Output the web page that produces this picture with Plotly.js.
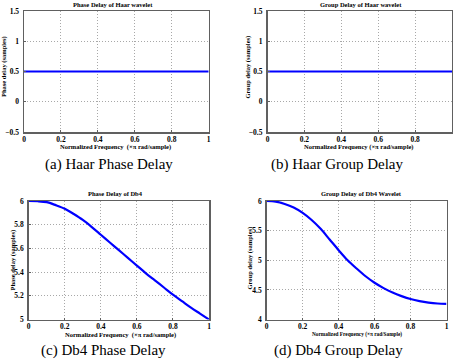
<!DOCTYPE html>
<html>
<head>
<meta charset="utf-8">
<script src="https://cdn.plot.ly/plotly-3.0.1.min.js"></script>
<style>
  html, body { margin: 0; padding: 0; background: #fff; }
  #chart { width: 453px; height: 359px; }
</style>
</head>
<body>
<div id="chart"></div>
<script>
// normalized frequency (x pi rad/sample)
let freq = [0, 0.05, 0.1, 0.15, 0.2, 0.25, 0.3, 0.35, 0.4, 0.45, 0.5,
	0.55, 0.6, 0.65, 0.7, 0.75, 0.8, 0.85, 0.9, 0.95, 1]

let haarPhaseDelay = [0.5, 0.5, 0.5, 0.5, 0.5, 0.5, 0.5, 0.5, 0.5, 0.5, 0.5,
	0.5, 0.5, 0.5, 0.5, 0.5, 0.5, 0.5, 0.5, 0.5, 0.5]
let haarGroupDelay = [0.5, 0.5, 0.5, 0.5, 0.5, 0.5, 0.5, 0.5, 0.5, 0.5, 0.5,
	0.5, 0.5, 0.5, 0.5, 0.5, 0.5, 0.5, 0.5, 0.5, 0.5]
let db4PhaseDelay = [6.00, 5.998, 5.99, 5.965, 5.935, 5.89, 5.84, 5.78, 5.715, 5.65, 5.585,
	5.52, 5.455, 5.39, 5.33, 5.27, 5.21, 5.155, 5.10, 5.05, 5.00]
let db4GroupDelay = [6.00, 5.99, 5.95, 5.89, 5.80, 5.68, 5.53, 5.35, 5.17, 5.00, 4.86,
	4.73, 4.62, 4.53, 4.455, 4.395, 4.345, 4.31, 4.285, 4.27, 4.265]

let xTicks = [0, 0.2, 0.4, 0.6, 0.8, 1]
let haarYTicks = [-0.5, 0, 0.5, 1, 1.5]
let db4PhaseYTicks = [5, 5.2, 5.4, 5.6, 5.8, 6]
let db4GroupYTicks = [4, 4.5, 5, 5.5, 6]

let W = 453, H = 359
function px(x) {return x / W}
function py(y) {return 1 - y / H}

let serif = "Liberation Serif, Times New Roman, serif"
let tickFont = {family: serif, size: 7.5, color: "#000", weight: "bold"}

function xAxis(domain, anchor) {
	return {
		domain: domain, anchor: anchor, range: [0, 1],
		tickvals: xTicks, tickfont: tickFont,
		showgrid: true, gridcolor: "#a8a8a8", griddash: "1px,2px", gridwidth: 1,
		zeroline: false, showline: true, mirror: true, linecolor: "#606060", linewidth: 1.5,
		ticks: "inside", ticklen: 2, tickcolor: "#606060", ticklabelstandoff: -1
	}
}
function yAxis(domain, anchor, range, ticks) {
	return {
		domain: domain, anchor: anchor, range: range,
		tickvals: ticks, tickfont: tickFont,
		showgrid: true, gridcolor: "#a8a8a8", griddash: "1px,2px", gridwidth: 1,
		zeroline: false, showline: true, mirror: true, linecolor: "#606060", linewidth: 1.5,
		ticks: "inside", ticklen: 2, tickcolor: "#606060", ticklabelstandoff: 2
	}
}

function line(y, xa, ya) {
	return {
		x: freq, y: y, xaxis: xa, yaxis: ya, type: "scatter", mode: "lines",
		line: {color: "#0000ff", width: 2.2, shape: "spline", smoothing: 0.9},
		cliponaxis: false, showlegend: false
	}
}

let data = [
	line(haarPhaseDelay, "x", "y"),
	line(haarGroupDelay, "x2", "y2"),
	line(db4PhaseDelay, "x3", "y3"),
	line(db4GroupDelay, "x4", "y4")
]

function label(text, x, y, size, angle, family) {
	return {
		text: text, x: px(x), y: py(y), xref: "paper", yref: "paper",
		xanchor: "center", yanchor: "middle", showarrow: false, textangle: angle || 0,
		font: {family: family || serif, size: size, color: "#000"}
	}
}

let annotations = [
	label("<b>Phase Delay of Haar wavelet</b>", 112.5, 4, 6.5),
	label("<b>Group Delay of Haar wavelet</b>", 360.5, 4, 6.5),
	label("<b>Phase Delay of Db4</b>", 115.5, 193.5, 6.5),
	label("<b>Group Delay of Db4 Wavelet</b>", 361.5, 193.5, 6.5),

	label("<b>Normalized Frequency  (×π rad/sample)</b>", 116, 146.5, 6.5),
	label("<b>Normalized Frequency (×π rad/sample)</b>", 359, 146.5, 6.5),
	label("<b>Normalized Frequency  (×π rad/sample)</b>", 120, 334.5, 6.5),
	label("<b>Normalized Frequency (×π rad/Sample)</b>", 357, 334, 5.3),

	label("<b>Phase delay (samples)</b>", 4, 67, 6.5, -90),
	label("<b>Group delay (samples)</b>", 247, 67.5, 6.5, -90),
	label("<b>Phase delay (samples)</b>", 12, 260.5, 6.5, -90),
	label("<b>Group delay (samples)</b>", 249.5, 258, 6.5, -90),

	label("(a) Haar Phase Delay", 109, 164.5, 15),
	label("(b) Haar Group Delay", 337, 164.5, 15),
	label("(c) Db4 Phase Delay", 103.5, 350.5, 15),
	label("(d) Db4 Group Delay", 338.5, 350.5, 15)
]

let layout = {
	width: W, height: H,
	margin: {l: 0, r: 0, t: 0, b: 0},
	paper_bgcolor: "#fff", plot_bgcolor: "#fff",
	showlegend: false,
	xaxis: xAxis([px(24), px(208.7)], "y"),
	yaxis: yAxis([py(132), py(11)], "x", [-0.5, 1.5], haarYTicks),
	xaxis2: xAxis([px(267.5), px(452)], "y2"),
	yaxis2: yAxis([py(132), py(11)], "x2", [-0.5, 1.5], haarYTicks),
	xaxis3: xAxis([px(28.7), px(209)], "y3"),
	yaxis3: yAxis([py(319.5), py(201)], "x3", [5, 6], db4PhaseYTicks),
	xaxis4: xAxis([px(266.7), px(446.5)], "y4"),
	yaxis4: yAxis([py(319.5), py(201)], "x4", [4, 6], db4GroupYTicks),
	annotations: annotations
}

Plotly.newPlot("chart", data, layout, {staticPlot: true, displayModeBar: false})
</script>
</body>
</html>
